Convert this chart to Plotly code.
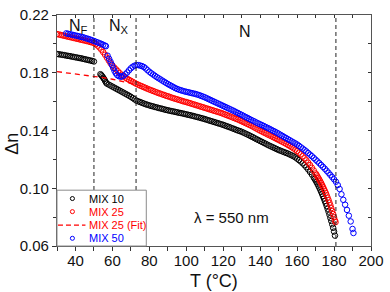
import plotly.graph_objects as go

# ---------------- data ----------------
T_mix10 = [30, 31, 32, 33, 34, 35, 36, 37, 38, 39, 40, 41, 42, 43, 44, 45, 46, 47, 48, 49, 50,
           53.5, 54, 54.5, 55, 55.5, 56, 56.5,
           57, 58, 59, 60, 61, 62, 63, 64, 65, 66, 67, 68, 69, 70, 71, 72, 73,
           74, 75, 76, 77, 78, 79, 80, 81, 82, 83, 84, 85, 86, 87, 88, 89, 90, 91, 92, 93,
           94, 95, 96, 97, 98, 99, 100, 101, 102, 103, 104, 105, 106, 107, 108, 109, 110, 111, 112, 113,
           114, 115, 116, 117, 118, 119, 120, 121, 122, 123, 124, 125, 126, 127, 128, 129, 130, 131, 132, 133,
           134, 135, 136, 137, 138, 139, 140, 141, 142, 143, 144, 145, 146, 147, 148, 149, 150, 151, 152, 153,
           154, 155, 156, 157, 158, 159, 160, 161, 162, 163, 164, 165, 166, 167, 168, 169,
           169.5, 170, 170.5, 171, 171.5, 172, 172.5, 173, 173.5, 174, 174.5, 175, 175.5, 176, 176.5,
           177, 177.5, 178, 178.5, 179, 179.5, 180, 180.5]
dn_mix10 = [.1930, .1928, .1926, .1924, .1922, .1919, .1917, .1915, .1912, .1910, .1907, .1905, .1902, .1900,
            .1897, .1894, .1891, .1888, .1885, .1882, .1878,
            .1790, .1783, .1775, .1766, .1757, .1745, .1733,
            .1725, .1718, .1711, .1704, .1697, .1690, .1683, .1676, .1669, .1662, .1655, .1648, .1641, .1633,
            .1625, .1616, .1607,
            .1602, .1597, .1592, .1587, .1582, .1578, .1574, .1570, .1567, .1563,
            .1560, .1556, .1553, .1550, .1546, .1543, .1540, .1537, .1534, .1532,
            .1529, .1526, .1523, .1521, .1518, .1515, .1512, .1509, .1506, .1503,
            .1500, .1496, .1493, .1490, .1486, .1483, .1479, .1475, .1471, .1467,
            .1463, .1459, .1455, .1451, .1447, .1443, .1439, .1434, .1429, .1425,
            .1420, .1415, .1410, .1405, .1400, .1396, .1391, .1385, .1379, .1373,
            .1367, .1360, .1354, .1347, .1340, .1334, .1327, .1321, .1314, .1308,
            .1301, .1295, .1289, .1283, .1277, .1271, .1265, .1260, .1255, .1250,
            .1245, .1240, .1234, .1228, .1222, .1214, .1205, .1195, .1185, .1173,
            .1160, .1146, .1130, .1113, .1095, .1075,
            .1065, .1055, .1043, .1031, .1018, .1005, .0991, .0976, .0961, .0945, .0929, .0912, .0895,
            .0877, .0858, .0838, .0817, .0795, .0773, .0750, .0726, .0700, .0672]

T_mix25 = [30, 31, 32, 33, 34, 35, 36, 37, 38, 39, 40, 41, 42, 43, 44, 45, 46, 47, 48, 49,
           50, 51, 52, 53, 54, 55, 56, 57, 58, 59, 60, 61, 62, 63, 64, 65, 66, 67, 68, 69,
           70, 71, 72, 73,
           74, 75, 76, 77, 78, 79, 80, 81, 82, 83, 84, 85, 86, 87, 88, 89, 90, 91, 92, 93,
           94, 95, 96, 97, 98, 99, 100, 101, 102, 103, 104, 105, 106, 107, 108, 109, 110, 111, 112, 113,
           114, 115, 116, 117, 118, 119, 120, 121, 122, 123, 124, 125, 126, 127, 128, 129, 130, 131, 132, 133,
           134, 135, 136, 137, 138, 139, 140, 141, 142, 143, 144, 145, 146, 147, 148, 149, 150, 151, 152, 153,
           154, 155, 156, 157, 158, 159, 160, 161, 162, 163, 164, 165, 166, 167, 168, 169, 170,
           170.5, 171, 171.5, 172, 172.5, 173, 173.5, 174, 174.5, 175, 175.5, 176, 176.5, 177, 177.5,
           178, 178.5, 179, 179.5, 180, 180.5, 180.8]
dn_mix25 = [.2068, .2065, .2062, .2059, .2056, .2053, .2050, .2047, .2044, .2041,
            .2038, .2035, .2032, .2029, .2026, .2023, .2020, .2017, .2013, .2010,
            .2006, .1998, .1988, .1975, .1960, .1943, .1925, .1905, .1885, .1866,
            .1850, .1836, .1823, .1810, .1797, .1785, .1775, .1766, .1758, .1751,
            .1744, .1737, .1730, .1723,
            .1717, .1711, .1706, .1700, .1695, .1689, .1684, .1679, .1674, .1669,
            .1664, .1659, .1655, .1650, .1646, .1641, .1637, .1633, .1628, .1624,
            .1620, .1616, .1612, .1608, .1604, .1600, .1597, .1593, .1589, .1585,
            .1581, .1577, .1573, .1569, .1565, .1561, .1557, .1553, .1549, .1545,
            .1541, .1537, .1533, .1529, .1525, .1521, .1516, .1511, .1506, .1501,
            .1496, .1491, .1486, .1481, .1476, .1470, .1464, .1458, .1452, .1446,
            .1440, .1434, .1427, .1420, .1413, .1406, .1399, .1393, .1386, .1380,
            .1373, .1367, .1361, .1354, .1348, .1341, .1335, .1328, .1322, .1315,
            .1308, .1300, .1293, .1285, .1277, .1268, .1258, .1247, .1235, .1222,
            .1208, .1193, .1177, .1160, .1142, .1123, .1103,
            .1093, .1082, .1071, .1060, .1048, .1036, .1023, .1010, .0996, .0982, .0967, .0951, .0935,
            .0918, .0900, .0882, .0862, .0842, .0821, .0799, .0777, .0765]

T_mix25_fit = [30, 40, 50, 55, 60, 65, 70, 75, 80]
dn_mix25_fit = [.1808, .1793, .1776, .1766, .1755, .1742, .1727, .1710, .1690]

T_mix50 = [35, 36, 37, 38, 39, 40, 41, 42, 43, 44, 45, 46, 47, 48, 49, 50, 51, 52, 53, 54, 55, 56, 56.5,
           57.4, 58.2, 59.0, 59.7, 60.4, 61.1, 61.8, 62.6, 63.5, 64.5,
           65, 66, 67, 68, 69, 70, 71, 72, 73, 74, 75, 76, 77, 78, 79, 80,
           81, 82, 83, 84, 85, 86, 87, 88, 89, 90,
           91, 92, 93, 94, 95, 96, 97, 98, 99, 100, 101, 102, 103, 104, 105, 106, 107, 108, 109, 110,
           111, 112, 113, 114, 115, 116, 117, 118, 119, 120, 121, 122, 123, 124, 125, 126, 127, 128, 129, 130,
           131, 132, 133, 134, 135, 136, 137, 138, 139, 140, 141, 142, 143, 144, 145, 146, 147, 148, 149, 150,
           151, 152, 153, 154, 155, 156, 157, 158, 159, 160, 161, 162, 163, 164, 165, 166, 167, 168, 169, 170,
           171, 172, 173, 174, 175, 176, 177, 178, 179, 180,
           181, 182, 183, 184, 185, 186, 187, 188, 189, 190, 190.5]
dn_mix50 = [.2073, .2070, .2067, .2064, .2061, .2058, .2055, .2052, .2049, .2046, .2042, .2038, .2034,
            .2030, .2025, .2020, .2015, .2010, .2005, .2000, .1994, .1988, .1984,
            .1918, .1897, .1876, .1855, .1834, .1814, .1797, .1784, .1776, .1773,
            .1774, .1779, .1789, .1802, .1817, .1831, .1842, .1849, .1853, .1853, .1850, .1846, .1840,
            .1830, .1818, .1807,
            .1797, .1788, .1779, .1770, .1762, .1754, .1746, .1738, .1730, .1722,
            .1715, .1708, .1701, .1694, .1688, .1683, .1679, .1675, .1671, .1668,
            .1665, .1662, .1659, .1656, .1653, .1649, .1645, .1640, .1635, .1630,
            .1624, .1618, .1612, .1606, .1600, .1594, .1588, .1582, .1576, .1570,
            .1564, .1558, .1552, .1546, .1540, .1534, .1527, .1521, .1514, .1508,
            .1501, .1494, .1488, .1481, .1474, .1468, .1462, .1455, .1449, .1443,
            .1437, .1431, .1424, .1418, .1412, .1405, .1398, .1392, .1385, .1378,
            .1370, .1363, .1355, .1348, .1340, .1333, .1325, .1318, .1311, .1303,
            .1294, .1284, .1275, .1265, .1255, .1244, .1233, .1222, .1210, .1198,
            .1186, .1174, .1161, .1148, .1135, .1121, .1107, .1092, .1077, .1062,
            .1045, .1022, .0995, .0958, .0920, .0886, .0850, .0810, .0770, .0718, .0690]

transition_T = [50, 72.8, 181]
phase_labels = ["N<sub>F</sub>", "N<sub>X</sub>", "N"]
phase_label_T = [35.6, 57.3, 131.6]

x_tick_vals = [40, 60, 80, 100, 120, 140, 160, 180, 200]
x_tick_text = ["40", "60", "80", "100", "120", "140", "160", "180", "200"]
x_minor_vals = [30, 50, 70, 90, 110, 130, 150, 170, 190]
x_all_vals = [30, 40, 50, 60, 70, 80, 90, 100, 110, 120, 130, 140, 150, 160, 170, 180, 190, 200]
y_tick_vals = [0.06, 0.10, 0.14, 0.18, 0.22]
y_tick_text = ["0.06", "0.10", "0.14", "0.18", "0.22"]
y_minor_vals = [0.08, 0.12, 0.16, 0.20]
y_all_vals = [0.06, 0.08, 0.10, 0.12, 0.14, 0.16, 0.18, 0.20, 0.22]

series_names = ["MIX 10", "MIX 25", "MIX 25 (Fit)", "MIX 50"]
series_colors = ["#000000", "#ff0000", "#ff0000", "#0000ff"]

for a, b in [(T_mix10, dn_mix10), (T_mix25, dn_mix25), (T_mix50, dn_mix50), (T_mix25_fit, dn_mix25_fit)]:
    assert len(a) == len(b), (len(a), len(b))

FONT = "Liberation Sans, Arial, Helvetica, sans-serif"

fig = go.Figure()


def add_markers(T, dn, color, name):
    fig.add_trace(go.Scatter(
        x=T, y=dn, mode="markers", name=name, showlegend=False,
        marker=dict(symbol="circle-open", size=5.5, color=color, line=dict(width=1, color=color)),
    ))


add_markers(T_mix10, dn_mix10, series_colors[0], series_names[0])
add_markers(T_mix25, dn_mix25, series_colors[1], series_names[1])
fig.add_trace(go.Scatter(x=T_mix25_fit, y=dn_mix25_fit, mode="lines", name=series_names[2],
                         showlegend=False, line=dict(color=series_colors[2], width=1.3, dash="5px,4px")))
add_markers(T_mix50, dn_mix50, series_colors[3], series_names[3])
# dummy trace for mirrored (inside-tick) top / right axes
fig.add_trace(go.Scatter(x=[], y=[], xaxis="x2", yaxis="y2", showlegend=False, hoverinfo="skip"))

shapes = []
for t in transition_T:
    shapes.append(dict(type="line", xref="x", yref="paper", x0=t, x1=t, y0=0, y1=1,
                       line=dict(color="#222", width=1, dash="4px,3px"), layer="above"))

# manual legend box (paper coordinates of the plot area)
PW, PH, L0, B0 = 320.0, 240.0, 57.0, 246.0


def px(x):
    return (x - L0) / PW


def py(y):
    return (B0 - y) / PH


shapes.append(dict(type="rect", xref="paper", yref="paper", x0=px(57), x1=px(148), y0=py(246), y1=py(188),
                   line=dict(color="#8a8a8a", width=1), fillcolor="white", layer="above"))
rows_y = [196.7, 210.3, 224.3, 238.0]
r = 2.1
for i, name in enumerate(series_names):
    yy = rows_y[i]
    if "Fit" in name:
        shapes.append(dict(type="line", xref="paper", yref="paper", x0=px(58), x1=px(86), y0=py(yy), y1=py(yy),
                           line=dict(color=series_colors[i], width=1.3, dash="5px,3px"), layer="above"))
    else:
        shapes.append(dict(type="circle", xref="paper", yref="paper", x0=px(72.7 - r), x1=px(72.7 + r),
                           y0=py(yy + r), y1=py(yy - r), line=dict(color=series_colors[i], width=1),
                           fillcolor="rgba(0,0,0,0)", layer="above"))

annotations = []
for i, name in enumerate(series_names):
    annotations.append(dict(xref="paper", yref="paper", x=px(87.5), y=py(rows_y[i]), text=name,
                            showarrow=False, xanchor="left", yanchor="middle",
                            font=dict(family=FONT, size=11, color=series_colors[i])))

for lab, t in zip(phase_labels, phase_label_T):
    annotations.append(dict(xref="x", yref="paper", x=t, y=py(18 if lab != "N" else 23),
                            text=lab, showarrow=False,
                            xanchor="left" if lab != "N" else "center", yanchor="middle",
                            font=dict(family=FONT, size=16, color="#111")))

annotations.append(dict(xref="paper", yref="paper", x=px(195), y=py(216), text="λ = 550 nm",
                        showarrow=False, xanchor="left", yanchor="middle",
                        font=dict(family=FONT, size=15, color="#111")))
annotations.append(dict(xref="paper", yref="paper", x=0.5, y=py(282), text="T (°C)",
                        showarrow=False, xanchor="center", yanchor="middle",
                        font=dict(family=FONT, size=18, color="#111")))
annotations.append(dict(xref="paper", yref="paper", x=px(11), y=py(140), text="Δn", textangle=-90,
                        showarrow=False, xanchor="center", yanchor="middle",
                        font=dict(family=FONT, size=18, color="#111")))

axis_common = dict(showgrid=False, zeroline=False, showline=True, linecolor="#555", linewidth=1.2,
                   tickcolor="#333", tickwidth=1, ticklen=4, ticklabeloverflow="allow",
                   tickfont=dict(family=FONT, size=15, color="#111"))
mirror_common = {k: v for k, v in axis_common.items() if k not in ("tickfont", "ticklen", "ticklabeloverflow")}

fig.update_layout(
    width=390, height=292,
    margin=dict(l=57, r=13, t=6, b=46),
    paper_bgcolor="white", plot_bgcolor="white",
    showlegend=False,
    font=dict(family=FONT, size=15, color="#111"),
    xaxis=dict(range=[30, 200], tickmode="array", tickvals=x_tick_vals, ticktext=x_tick_text,
               ticks="outside", ticklabelstandoff=-3,
               minor=dict(tickmode="array", tickvals=x_minor_vals, ticks="outside", ticklen=4,
                          tickcolor="#333", tickwidth=1, showgrid=False),
               **axis_common),
    yaxis=dict(range=[0.06, 0.22], tickmode="array", tickvals=y_tick_vals, ticktext=y_tick_text,
               ticks="outside",
               minor=dict(tickmode="array", tickvals=y_minor_vals, ticks="outside", ticklen=3,
                          tickcolor="#333", tickwidth=1, showgrid=False),
               **axis_common),
    xaxis2=dict(range=[30, 200], overlaying="x", side="top", anchor="y", tickmode="array",
                tickvals=x_all_vals, showticklabels=False, ticks="inside", ticklen=3, **mirror_common),
    yaxis2=dict(range=[0.06, 0.22], overlaying="y", side="right", anchor="x", tickmode="array",
                tickvals=y_all_vals, showticklabels=False, ticks="inside", ticklen=3, **mirror_common),
    shapes=shapes,
    annotations=annotations,
)

fig.write_html("out.html", config={"displayModeBar": False},
               post_script="document.body.style.margin='0px';document.body.style.padding='0px';")
